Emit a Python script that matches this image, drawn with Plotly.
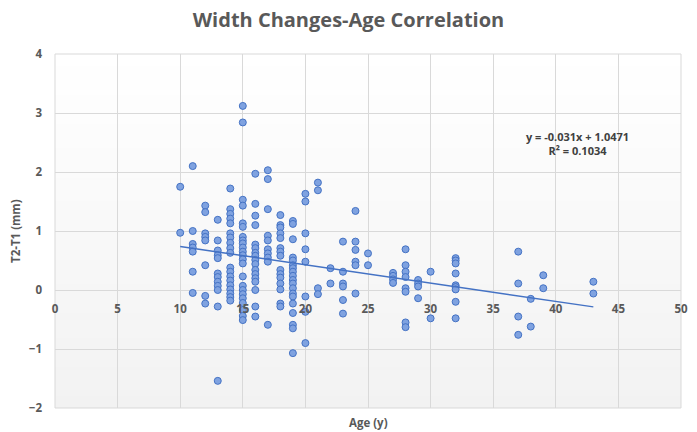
import plotly.graph_objects as go

# ---- data ----
age_10 = [1.75, 0.97]
age_11 = [2.10, 1.00, 0.78, 0.72, 0.65, 0.31, -0.05]
age_12 = [1.43, 1.32, 0.96, 0.90, 0.84, 0.42, -0.10, -0.23]
age_13 = [1.19, 0.84, 0.67, 0.59, 0.54, 0.28, 0.22, 0.14, 0.07, 0.00, -0.28, -1.54]
age_14 = [1.72, 1.37, 1.29, 1.21, 1.13, 0.96, 0.89, 0.80, 0.71, 0.63, 0.38, 0.31,
          0.23, 0.16, 0.08, 0.01, -0.06, -0.12, -0.18]
age_15 = [3.12, 2.84, 1.53, 1.43, 1.13, 1.07, 0.90, 0.84, 0.79, 0.72, 0.65, 0.59,
          0.52, 0.45, 0.23, 0.07, 0.00, -0.07, -0.14, -0.22, -0.34, -0.44, -0.51]
age_16 = [1.97, 1.46, 1.26, 1.10, 0.77, 0.71, 0.63, 0.58, 0.51, 0.44, 0.34, 0.27,
          0.20, 0.14, 0.00, -0.28, -0.45]
age_17 = [2.03, 1.88, 1.37, 0.92, 0.84, 0.69, 0.62, 0.55, 0.48, -0.59]
age_18 = [1.27, 1.10, 1.06, 0.96, 0.88, 0.71, 0.65, 0.58, 0.34, 0.27, 0.21, 0.11,
          0.01, -0.23, -0.28]
age_19 = [1.17, 1.12, 0.86, 0.55, 0.50, 0.42, 0.37, 0.31, 0.24, 0.17, 0.11, 0.03,
          -0.06, -0.11, -0.23, -0.39, -0.59, -0.65, -1.07]
age_20 = [1.63, 1.50, 0.96, 0.69, 0.48, -0.11, -0.37, -0.90]
age_21 = [1.82, 1.69, 0.03, -0.07]
age_22 = [0.37, 0.11]
age_23 = [0.82, 0.31, 0.11, 0.06, -0.17, -0.40]
age_24 = [1.34, 0.82, 0.68, 0.48, 0.42, -0.06]
age_25 = [0.62, 0.42]
age_27 = [0.29, 0.24, 0.18, 0.12]
age_28 = [0.69, 0.42, 0.31, 0.22, 0.03, -0.03, -0.55, -0.63]
age_29 = [0.17, 0.11, 0.06, -0.14]
age_30 = [0.31, -0.48]
age_32 = [0.54, 0.50, 0.45, 0.28, 0.08, 0.05, 0.01, -0.20, -0.48]
age_37 = [0.65, 0.11, -0.45, -0.76]
age_38 = [-0.15, -0.62]
age_39 = [0.25, 0.03]
age_43 = [0.14, -0.06]

groups = {10: age_10, 11: age_11, 12: age_12, 13: age_13, 14: age_14, 15: age_15,
          16: age_16, 17: age_17, 18: age_18, 19: age_19, 20: age_20, 21: age_21,
          22: age_22, 23: age_23, 24: age_24, 25: age_25, 27: age_27, 28: age_28,
          29: age_29, 30: age_30, 32: age_32, 37: age_37, 38: age_38, 39: age_39,
          43: age_43}

slope = -0.031
intercept = 1.0471
r_squared = 0.1034
trend_x = [10, 43]

title_text = "Width Changes-Age Correlation"
x_title = "Age (y)"
y_title = "T2-T1 (mm)"
x_range = [0, 50]
y_range = [-2, 4]

ages, changes = [], []
for a, vals in groups.items():
    for v in vals:
        ages.append(a)
        changes.append(v)

trend_y = [slope * x + intercept for x in trend_x]

BLUE = "#4472C4"
GREY = "#595959"
FONT = "Open Sans"

fig = go.Figure()
fig.add_trace(go.Scatter(
    x=ages, y=changes, mode="markers",
    marker=dict(size=7, color="#7FA2E0", line=dict(width=1, color=BLUE)),
    showlegend=False, hoverinfo="x+y"))
fig.add_trace(go.Scatter(
    x=trend_x, y=trend_y, mode="lines",
    line=dict(color=BLUE, width=1.5), showlegend=False, hoverinfo="skip"))

# gradient background of the plot area
shapes = []
n = 60
for i in range(n):
    t0 = i / n
    t1 = (i + 1) / n
    tm = (t0 + t1) / 2
    g = int(round(242 + (255 - 242) * tm))
    shapes.append(dict(type="rect", xref="x domain", yref="y domain",
                       x0=0, x1=1, y0=t0, y1=min(1, t1 + 0.002),
                       fillcolor=f"rgb({g},{g},{g})", line=dict(width=0),
                       layer="below"))
shapes.append(dict(type="rect", xref="x domain", yref="y domain",
                   x0=0, x1=1, y0=0, y1=1, line=dict(color="#d9d9d9", width=1),
                   layer="below"))

zero_pos = (0 - y_range[0]) / (y_range[1] - y_range[0])

fig.update_layout(
    width=697, height=432,
    margin=dict(l=55, r=9, t=54, b=24),
    paper_bgcolor="white", plot_bgcolor="rgba(0,0,0,0)",
    font=dict(family=FONT, color=GREY),
    title=dict(text=title_text, x=0.5, xanchor="center", y=1 - 20 / 432, yanchor="middle",
               font=dict(family=FONT, size=20, color=GREY, weight="bold")),
    shapes=shapes,
    xaxis=dict(range=x_range, dtick=5, tick0=0, showgrid=True, gridcolor="#d9d9d9",
               gridwidth=1, zeroline=False, showline=False, ticks="",
               anchor="free", position=zero_pos, ticklabelstandoff=10,
               tickfont=dict(family=FONT, size=11.5, color=GREY, weight="bold")),
    yaxis=dict(range=y_range, dtick=1, tick0=0, showgrid=True, gridcolor="#d9d9d9",
               gridwidth=1, zeroline=False, showline=False, ticks="",
               ticklabelstandoff=12,
               tickfont=dict(family=FONT, size=11.5, color=GREY, weight="bold")),
    annotations=[
        dict(text=f"y = {slope}x + {intercept}<br>R² = {r_squared}", x=41.7, y=2.48,
             xref="x", yref="y", showarrow=False, align="center",
             font=dict(family=FONT, size=11, color="#404040", weight="bold")),
        dict(text=x_title, x=0.5, y=0, xref="paper", yref="paper", yanchor="top",
             yshift=-5, showarrow=False,
             font=dict(family=FONT, size=11.5, color=GREY, weight="bold")),
        dict(text=y_title, x=0, y=0.5, xref="paper", yref="paper", xanchor="center",
             xshift=-40, showarrow=False, textangle=-90,
             font=dict(family=FONT, size=11.5, color=GREY, weight="bold")),
    ],
)

fig.write_html("out.html", config={"displayModeBar": False},
               post_script="document.body.style.margin='0';")
